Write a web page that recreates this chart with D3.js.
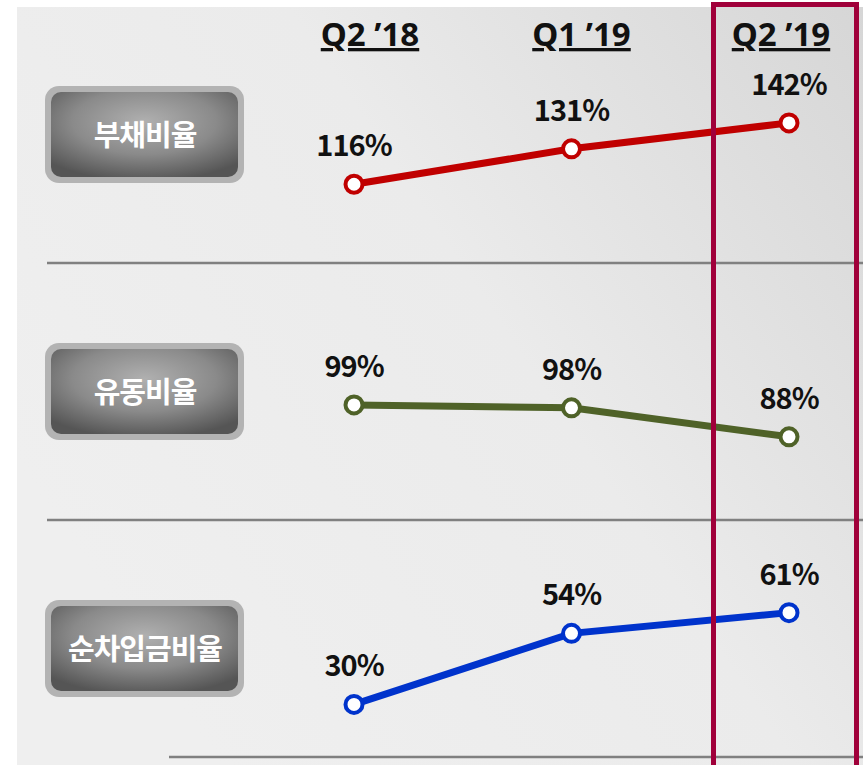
<!DOCTYPE html>
<html>
  <head>
    <meta charset="utf-8" />
    <style>
      body,
      html {
        margin: 0;
        padding: 0;
        background: #fff;
      }
    </style>
  </head>
  <body>
    <svg id="svg" width="863" height="765"></svg>

    <script src="https://cdn.jsdelivr.net/npm/d3@7"></script>
    <script>
      const quarters = ['Q2 \u201918', 'Q1 \u201919', 'Q2 \u201919'];
      const metrics = ['부채비율', '유동비율', '순차입금비율'];
      const debtRatio = [116, 131, 142];
      const currentRatio = [99, 98, 88];
      const netDebtRatio = [30, 54, 61];
      const rowDomains = [
        [100, 150],
        [80, 110],
        [20, 70],
      ];
      const colors = ['#c00000', '#4f6228', '#0033cc'];

      const rows = [debtRatio, currentRatio, netDebtRatio].map((values, i) => ({
        name: metrics[i],
        values: values,
        domain: rowDomains[i],
        color: colors[i],
      }));

      // vertical pixel band for each row's scale
      const rowRanges = [
        [222, 104],
        [460, 373],
        [734, 586],
      ];
      const rowCentres = [135, 392, 649];

      const svg = d3.select('#svg');

      const defs = svg.append('defs');
      const bg = defs
        .append('linearGradient')
        .attr('id', 'bg')
        .attr('x1', '0%')
        .attr('y1', '60%')
        .attr('x2', '100%')
        .attr('y2', '0%');
      bg.append('stop').attr('offset', '0%').attr('stop-color', '#efefef');
      bg.append('stop').attr('offset', '50%').attr('stop-color', '#ebebeb');
      bg.append('stop').attr('offset', '100%').attr('stop-color', '#d6d6d6');

      const btn = defs
        .append('radialGradient')
        .attr('id', 'btn')
        .attr('cx', '50%')
        .attr('cy', '35%')
        .attr('r', '70%');
      btn.append('stop').attr('offset', '0%').attr('stop-color', '#b0b0b0');
      btn.append('stop').attr('offset', '55%').attr('stop-color', '#8a8a8a');
      btn.append('stop').attr('offset', '100%').attr('stop-color', '#555');

      svg
        .append('rect')
        .attr('x', 17)
        .attr('y', 7)
        .attr('width', 846)
        .attr('height', 758)
        .attr('fill', 'url(#bg)');

      const xScale = d3
        .scalePoint()
        .domain(quarters)
        .range([354, 789]);

      // headers sit a little off the point columns in the original
      const headerScale = d3
        .scalePoint()
        .domain(quarters)
        .range([370, 781]);

      svg
        .append('g')
        .selectAll('text')
        .data(quarters)
        .enter()
        .append('text')
        .attr('x', (d, i) => headerScale(d) + (i === 1 ? 6 : 0))
        .attr('y', 46)
        .attr('text-anchor', 'middle')
        .attr('font-family', 'Noto Sans, sans-serif')
        .attr('font-weight', 'bold')
        .attr('font-size', 33)
        .attr('fill', '#111')
        .attr('text-decoration', 'underline')
        .text((d) => d);

      // separators
      const seps = [
        [47, 263],
        [47, 520],
        [169, 757],
      ];
      svg
        .append('g')
        .selectAll('line')
        .data(seps)
        .enter()
        .append('line')
        .attr('x1', (d) => d[0])
        .attr('x2', 863)
        .attr('y1', (d) => d[1])
        .attr('y2', (d) => d[1])
        .attr('stroke', '#808080')
        .attr('stroke-width', 2.5);

      rows.forEach((row, i) => {
        const yScale = d3.scaleLinear().domain(row.domain).range(rowRanges[i]);
        const g = svg.append('g');
        const cy = rowCentres[i];

        // label button
        g.append('rect')
          .attr('x', 45)
          .attr('y', cy - 49)
          .attr('width', 199)
          .attr('height', 97)
          .attr('rx', 14)
          .attr('fill', '#b3b3b3');
        g.append('rect')
          .attr('x', 51)
          .attr('y', cy - 43)
          .attr('width', 187)
          .attr('height', 85)
          .attr('rx', 10)
          .attr('fill', 'url(#btn)');
        g.append('text')
          .attr('x', 145)
          .attr('y', cy + 11)
          .attr('text-anchor', 'middle')
          .attr('font-family', 'Noto Sans CJK KR, sans-serif')
          .attr('font-weight', 'bold')
          .attr('font-size', 29)
          .attr('letter-spacing', -1)
          .attr('fill', '#fff')
          .text(row.name);

        const line = d3
          .line()
          .x((d, j) => xScale(quarters[j]))
          .y((d) => yScale(d));

        g.append('path')
          .datum(row.values)
          .attr('d', line)
          .attr('fill', 'none')
          .attr('stroke', row.color)
          .attr('stroke-width', 7);

        g.selectAll('circle')
          .data(row.values)
          .enter()
          .append('circle')
          .attr('cx', (d, j) => xScale(quarters[j]))
          .attr('cy', (d) => yScale(d))
          .attr('r', 8.5)
          .attr('fill', '#fff')
          .attr('stroke', row.color)
          .attr('stroke-width', 4);

        g.selectAll('text.val')
          .data(row.values)
          .enter()
          .append('text')
          .attr('class', 'val')
          .attr('x', (d, j) => xScale(quarters[j]))
          .attr('y', (d) => yScale(d) - 28)
          .attr('text-anchor', 'middle')
          .attr('font-family', 'Noto Sans CJK KR, sans-serif')
          .attr('font-weight', 'bold')
          .attr('font-size', 29)
          .attr('letter-spacing', -1)
          .attr('fill', '#111')
          .text((d) => d + '%');
      });

      // highlight current quarter
      svg
        .append('rect')
        .attr('x', 713.5)
        .attr('y', 4.5)
        .attr('width', 143)
        .attr('height', 770)
        .attr('fill', 'none')
        .attr('stroke', '#a0003a')
        .attr('stroke-width', 5);
    </script>
  </body>
</html>
